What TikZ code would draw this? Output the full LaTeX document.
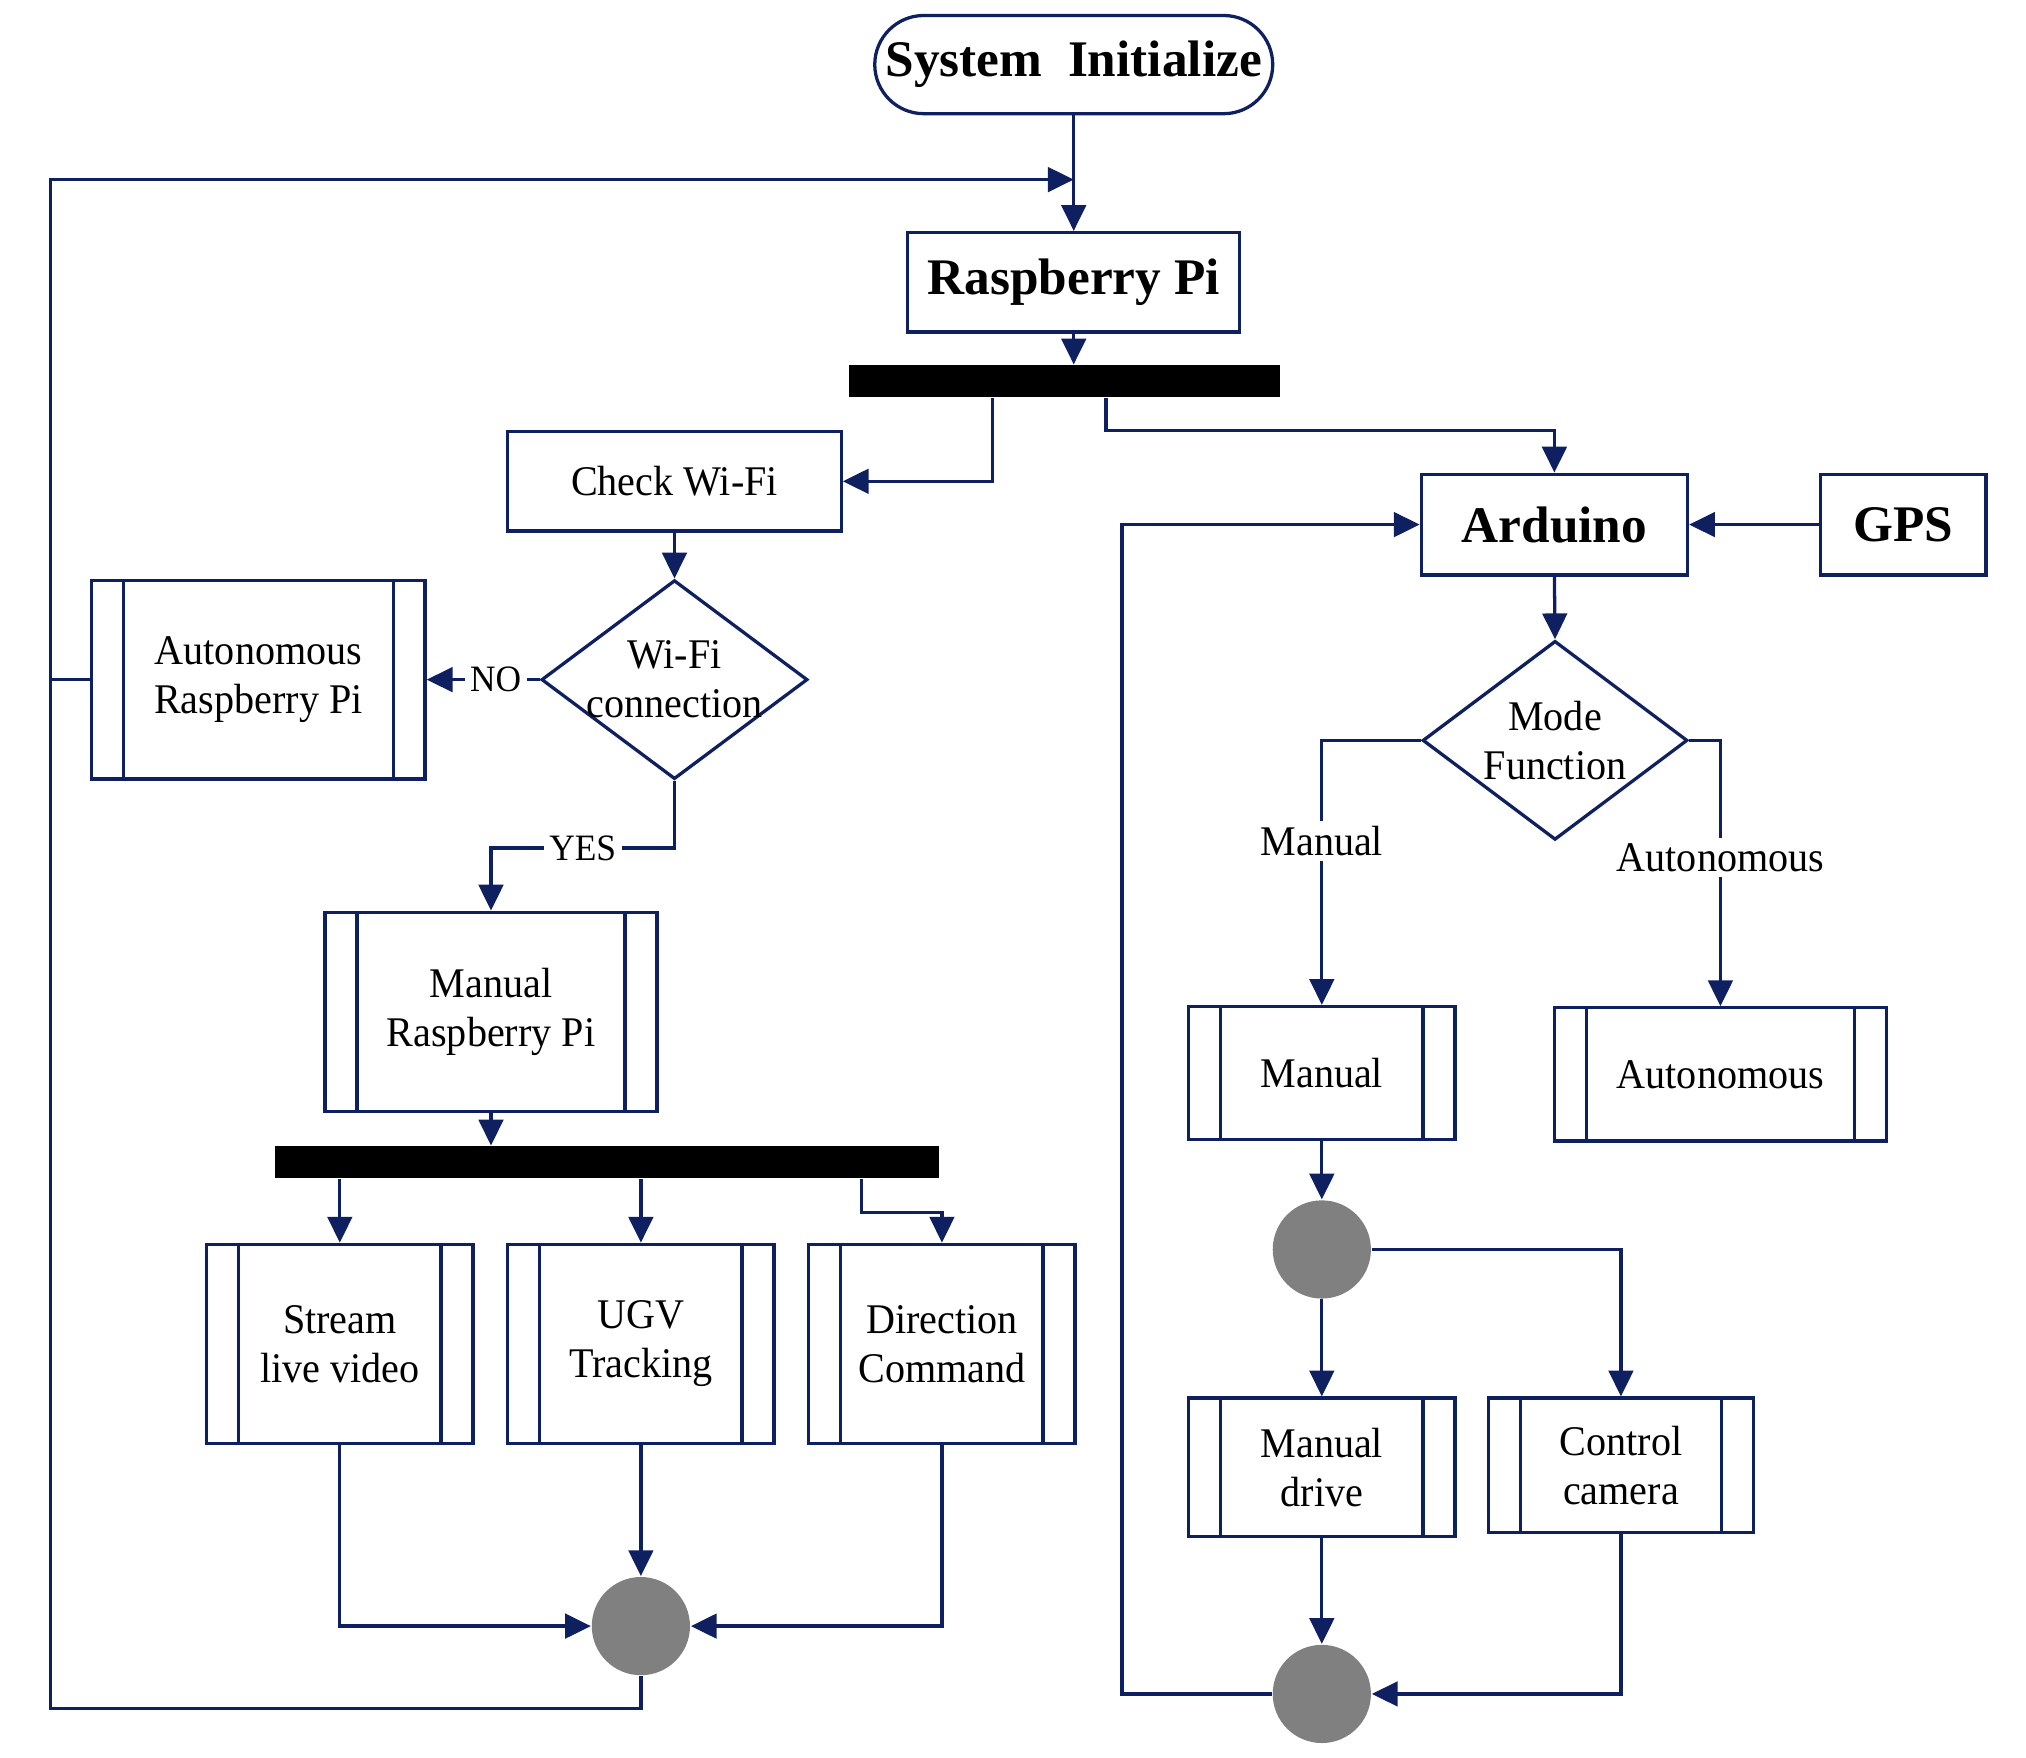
\documentclass[tikz,border=0pt]{standalone}
\usepackage{fontspec}
\setmainfont{Liberation Serif}[FakeStretch=0.95]
\newfontfamily\titlefont{Liberation Serif}
\usepackage{xcolor}
\usepackage{tikz}
\usetikzlibrary{positioning,arrows.meta,shapes.geometric}
\definecolor{linecol}{RGB}{14,32,96}

\begin{document}
\begin{tikzpicture}[
		font=\fontsize{9.3}{10.8}\selectfont,
		line/.style={draw=linecol, line width=0.72pt},
		arr/.style={line, -{Triangle[length=2mm, width=1.9mm]}},
		titlebox/.style={rectangle, line, font=\titlefont\fontsize{11.3}{13}\selectfont\bfseries, inner sep=0pt},
		procbox/.style={rectangle, line, inner sep=0pt, minimum width=2.58cm, minimum height=0.77cm},
		subbox/.style={rectangle, line, align=center, inner sep=0pt, minimum width=2.06cm, minimum height=1.54cm},
		decision/.style={diamond, line, inner sep=0pt, minimum width=2.06cm, minimum height=1.54cm},
		bar/.style={rectangle, fill=black, inner sep=0pt, minimum height=0.245cm},
		joint/.style={circle, fill=black!50, inner sep=0pt, minimum size=0.76cm},
		lbl/.style={fill=white, inner sep=1.2pt},
	]
		\useasboundingbox (0,0) rectangle (15.68,-13.605);

		% nodes
		\node[titlebox, rounded corners=3.8mm, minimum width=3.08cm, minimum height=0.76cm] (start) at (8.31,-0.50) {System\ \ Initialize};
		\node[titlebox, minimum width=2.57cm, minimum height=0.77cm] (rpi) at (8.31,-2.185) {Raspberry Pi};
		\node[bar, minimum width=3.34cm] (bar1) at (8.24,-2.95) {};
		\node[procbox] (chk) at (5.22,-3.725) {Check Wi-Fi};
		\node[decision, label={[align=center]center:Wi-Fi\\connection}] (wifi) at (5.22,-5.26) {};
		\node[subbox, minimum width=2.58cm] (autorpi) at (2.00,-5.26) {Autonomous\\Raspberry Pi};
		\node[subbox, minimum width=2.57cm] (manrpi) at (3.80,-7.83) {Manual\\Raspberry Pi};
		\node[bar, minimum width=5.14cm] (bar2) at (4.70,-8.995) {};
		\node[subbox] (stream) at (2.63,-10.40) {Stream\\live video};
		\node[subbox] (ugv) at (4.96,-10.40) {UGV\\Tracking};
		\node[subbox] (dir) at (7.29,-10.40) {Direction\\Command};
		\node[joint] (join1) at (4.96,-12.585) {};

		\node[titlebox, minimum width=2.06cm, minimum height=0.78cm] (arduino) at (12.03,-4.06) {Arduino};
		\node[titlebox, minimum width=1.28cm, minimum height=0.78cm] (gps) at (14.73,-4.06) {GPS};
		\node[decision, minimum width=2.05cm, label={[align=center]center:Mode\\Function}] (mode) at (12.035,-5.73) {};
		\node[subbox, minimum height=1.03cm] (manual) at (10.23,-8.305) {Manual};
		\node[subbox, minimum width=2.57cm, minimum height=1.03cm] (autonomous) at (13.315,-8.315) {Autonomous};
		\node[joint] (join2) at (10.23,-9.67) {};
		\node[subbox, minimum height=1.07cm] (drive) at (10.23,-11.355) {Manual\\drive};
		\node[subbox, minimum width=2.05cm, minimum height=1.04cm] (cam) at (12.545,-11.34) {Control\\camera};
		\node[joint] (join3) at (10.23,-13.11) {};

		\coordinate (merge) at (8.31,-1.39);
		\coordinate (loopL) at (0.39,-13.22);

		% inner lines of the sub-process boxes
		\foreach \n in {autorpi,manrpi,stream,ugv,dir,manual,autonomous,drive,cam} {
			\draw[line] ([xshift=2.6mm]\n.north west) -- ([xshift=2.6mm]\n.south west);
			\draw[line] ([xshift=-2.6mm]\n.north east) -- ([xshift=-2.6mm]\n.south east);
		}

		% lines
		\draw[arr] (start.south) -- (rpi.north);
		\draw[arr] (rpi.south) -- (rpi.south |- bar1.north);
		\draw[arr] ([xshift=-5.6mm]bar1.south) |- (chk.east);
		\draw[arr] ([xshift=3.2mm]bar1.south) -- ++(0,-0.25) -| (arduino.north);
		\draw[arr] (chk.south) -- (wifi.north);
		\draw[arr] (wifi.west) -- node[lbl, pos=0.39, font=\fontsize{8.2}{9}\selectfont] {NO} (autorpi.east);
		\draw[arr] (wifi.south) -- ++(0,-0.52) -| node[lbl, pos=0.25, font=\fontsize{8.2}{9}\selectfont] {YES} (manrpi.north);
		\draw[arr] (manrpi.south) -- (manrpi.south |- bar2.north);
		\draw[arr] (bar2.south -| stream.north) -- (stream.north);
		\draw[arr] (bar2.south -| ugv.north) -- (ugv.north);
		\draw[arr] ([xshift=19.7mm]bar2.south) -- ++(0,-0.26) -| (dir.north);
		\draw[arr] (stream.south) |- (join1.west);
		\draw[arr] (ugv.south) -- (join1.north);
		\draw[arr] (dir.south) |- (join1.east);
		\draw[arr] (join1.south) |- (loopL) |- (merge);
		\draw[line] (autorpi.west) -- (autorpi.west -| loopL);

		\draw[arr] (gps.west) -- (arduino.east);
		\draw[arr] (arduino.south) -- (mode.north);
		\draw[arr] (mode.west) -| node[lbl, pos=0.69] {Manual} (manual.north);
		\draw[arr] (mode.east) -| node[lbl, pos=0.72] {Autonomous} (autonomous.north);
		\draw[arr] (manual.south) -- (join2.north);
		\draw[arr] (join2.south) -- (drive.north);
		\draw[arr] (join2.east) -| (cam.north);
		\draw[arr] (drive.south) -- (join3.north);
		\draw[arr] (cam.south) |- (join3.east);
		\draw[arr] (join3.west) -- ++(-1.16,0) |- (arduino.west);
	\end{tikzpicture}
\end{document}
